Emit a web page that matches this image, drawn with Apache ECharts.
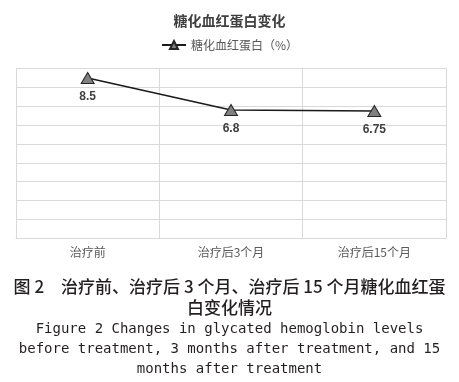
<!DOCTYPE html>
<html><head><meta charset="utf-8">
<script src="https://cdn.jsdelivr.net/npm/echarts@6/dist/echarts.min.js"></script>
<style>html,body{margin:0;padding:0;background:#fff}#c{width:459px;height:382px}</style>
</head><body><div id="c"></div>
<script>
var categories = ['治疗前', '治疗后3个月', '治疗后15个月'];
var hba1c = [8.5, 6.8, 6.75];
var seriesName = '糖化血红蛋白（%）';
var chartTitle = '糖化血红蛋白变化';
var captionCn = ['图 2\u3000治疗前、治疗后 3 个月、治疗后 15 个月糖化血红蛋', '白变化情况'];
var captionEn = ['Figure 2 Changes in glycated hemoglobin levels', 'before treatment, 3 months after treatment, and 15', 'months after treatment'];

var chart = echarts.init(document.getElementById('c'));
var cjk = '"Noto Sans CJK SC", "Noto Sans", sans-serif';
var graphics = [];
var cnY = [289, 310];
captionCn.forEach(function (t, i) {
  graphics.push({type: 'text', left: 'center', top: cnY[i] - 11, style: {text: t, font: '500 17px ' + cjk, fill: '#231f20'}});
});
var enY = [331, 351, 371];
captionEn.forEach(function (t, i) {
  graphics.push({type: 'text', left: 'center', top: enY[i] - 9, style: {text: t, font: '14px "DejaVu Sans Mono", monospace', fill: '#231f20'}});
});
chart.setOption({
  animation: false,
  title: {text: chartTitle, left: 'center', top: 9, textStyle: {fontFamily: cjk, fontSize: 14, fontWeight: 'bold', color: '#404040'}},
  legend: {data: [seriesName], top: 34, left: 'center', itemWidth: 24, itemHeight: 10, itemGap: 4,
    textStyle: {fontFamily: cjk, fontSize: 12, color: '#595959'}},
  grid: {left: 16, right: 13, top: 68.5, bottom: 143.7, show: false},
  xAxis: {type: 'category', data: categories, boundaryGap: true,
    axisLine: {show: true, lineStyle: {color: '#d9d9d9', width: 1}},
    axisTick: {show: false},
    axisLabel: {margin: 8, fontFamily: cjk, fontSize: 12, color: '#595959'},
    splitLine: {show: true, lineStyle: {color: '#d9d9d9', width: 1}}},
  yAxis: {type: 'value', min: 0, max: 9, interval: 1,
    axisLine: {show: false}, axisTick: {show: false}, axisLabel: {show: false},
    splitLine: {show: true, lineStyle: {color: '#d9d9d9', width: 1}}},
  series: [{
    name: seriesName, type: 'line', data: hba1c,
    symbol: 'triangle', symbolSize: [13, 11],
    itemStyle: {color: '#808080', borderColor: '#262626', borderWidth: 1},
    lineStyle: {color: '#1a1a1a', width: 1.5},
    label: {show: true, position: 'bottom', distance: 7, fontFamily: 'Liberation Sans, Arial, sans-serif', fontSize: 12, fontWeight: 'bold', color: '#404040'}
  }],
  graphic: graphics
});
</script></body></html>
